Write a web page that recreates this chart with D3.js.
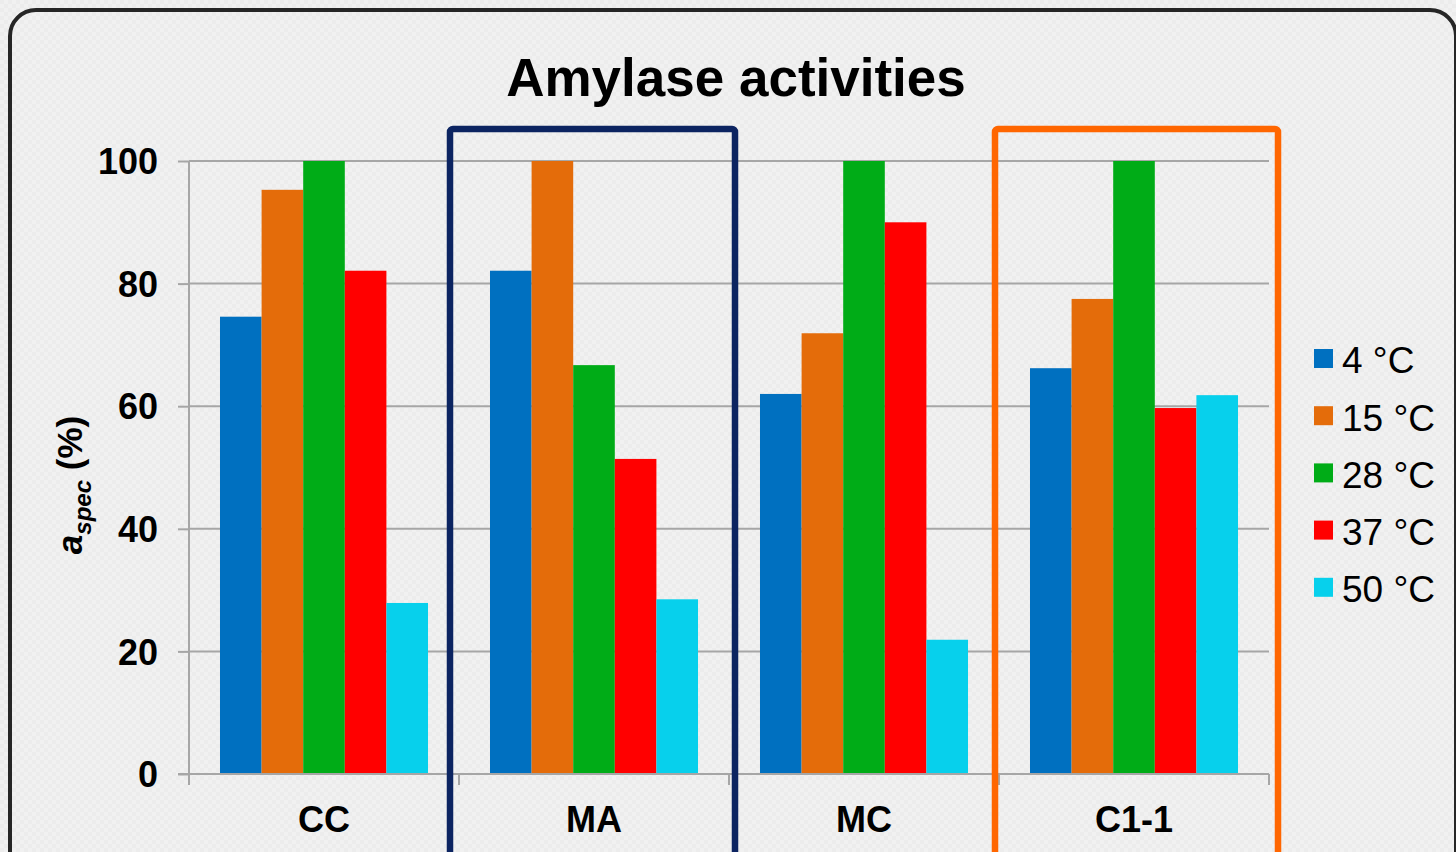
<!DOCTYPE html>
<html><head><meta charset="utf-8">
<script src="https://cdn.jsdelivr.net/npm/d3@7"></script>
<style>html,body{margin:0;padding:0;background:#f0f0f0;overflow:hidden}</style>
</head><body>
<svg id="c" width="1456" height="852"></svg>
<script>
const categories = ["CC", "MA", "MC", "C1-1"];
const seriesNames = ["4 °C", "15 °C", "28 °C", "37 °C", "50 °C"];
const seriesColors = ["#0070c0", "#e46c0a", "#00ac17", "#ff0000", "#07d0ec"];
const v4 = [74.6, 82.1, 62.0, 66.2];
const v15 = [95.3, 100, 71.9, 77.5];
const v28 = [100, 66.7, 100, 100];
const v37 = [82.1, 51.4, 90.0, 59.7];
const v50 = [27.9, 28.5, 21.9, 61.8];
const yTicks = [0, 20, 40, 60, 80, 100];
const highlightCats = ["MA", "C1-1"];
const highlightColors = ["#0c2461", "#ff6600"];

const boxPad = [[-9, 6], [-4, 9]];
const series = [v4, v15, v28, v37, v50];
const svg = d3.select("#c");
const W = 1456, H = 852;
const FONT = "Arial, 'Liberation Sans', sans-serif";

// background pattern
const defs = svg.append("defs");
const pat = defs.append("pattern").attr("id", "bg").attr("width", 8).attr("height", 8).attr("patternUnits", "userSpaceOnUse");
pat.append("rect").attr("width", 8).attr("height", 8).attr("fill", "#f1f1f1");
pat.append("rect").attr("width", 4).attr("height", 4).attr("fill", "#ececec");
pat.append("rect").attr("x", 4).attr("y", 4).attr("width", 4).attr("height", 4).attr("fill", "#ececec");
svg.append("rect").attr("width", W).attr("height", H).attr("fill", "url(#bg)");

// frame
svg.append("rect").attr("x", 10).attr("y", 10).attr("width", 1446).attr("height", 880)
  .attr("rx", 26).attr("ry", 26).attr("fill", "none").attr("stroke", "#262626").attr("stroke-width", 4);

const pLeft = 189, pRight = 1269, pTop = 161, pBottom = 774;
const x0 = d3.scaleBand().domain(categories).range([pLeft, pRight]).paddingInner(0).paddingOuter(0);
const x1 = d3.scaleBand().domain(d3.range(seriesNames.length)).range([0, x0.bandwidth()]).paddingOuter(0.745).paddingInner(0);
const y = d3.scaleLinear().domain([0, 100]).range([pBottom, pTop]);

// gridlines
svg.append("g").selectAll("line").data(yTicks.filter(d => d > 0)).join("line")
  .attr("x1", pLeft).attr("x2", pRight).attr("y1", d => y(d)).attr("y2", d => y(d))
  .attr("stroke", "#a6a6a6").attr("stroke-width", 2);

// y axis
const yAxis = d3.axisLeft(y).tickValues(yTicks).tickSize(11).tickPadding(20);
const gy = svg.append("g").attr("transform", `translate(${pLeft},0)`).call(yAxis);
gy.select(".domain").attr("stroke", "#a6a6a6").attr("stroke-width", 2).attr("d", `M0,${pTop}V${pBottom}`);
gy.selectAll(".tick line").attr("stroke", "#a6a6a6").attr("stroke-width", 2);
gy.selectAll(".tick text").attr("font-family", FONT)
  .attr("font-weight", "bold").attr("font-size", 36).attr("fill", "#000").attr("dy", "0.35em");

// bars
const g = svg.append("g");
categories.forEach((c, ci) => {
  series.forEach((s, si) => {
    g.append("rect")
      .attr("x", x0(c) + x1(si)).attr("width", x1.bandwidth())
      .attr("y", y(s[ci])).attr("height", y(0) - y(s[ci]))
      .attr("fill", seriesColors[si]);
  });
});

// x axis
const gx = svg.append("g").attr("transform", `translate(0,${pBottom})`);
gx.append("line").attr("x1", pLeft - 11).attr("x2", pRight).attr("stroke", "#a6a6a6").attr("stroke-width", 2);
const bounds = categories.map(c => x0(c)).concat([pRight]);
gx.selectAll("line.t").data(bounds).join("line").attr("class", "t")
  .attr("x1", d => d).attr("x2", d => d).attr("y1", 0).attr("y2", 11)
  .attr("stroke", "#a6a6a6").attr("stroke-width", 2);
gx.selectAll("text").data(categories).join("text")
  .attr("x", d => x0(d) + x0.bandwidth() / 2).attr("y", 58)
  .attr("text-anchor", "middle").attr("font-family", FONT)
  .attr("font-weight", "bold").attr("font-size", 36).text(d => d);

// highlight boxes
highlightCats.forEach((c, i) => {
  const bx = x0(c);
  svg.append("rect").attr("x", bx + boxPad[i][0]).attr("y", 129)
    .attr("width", x0.bandwidth() - boxPad[i][0] + boxPad[i][1]).attr("height", 800)
    .attr("rx", 3).attr("fill", "none").attr("stroke", highlightColors[i]).attr("stroke-width", 6.5);
});

// title
svg.append("text").attr("x", 736).attr("y", 96).attr("text-anchor", "middle")
  .attr("font-family", FONT).attr("font-weight", "bold")
  .attr("font-size", 53).text("Amylase activities");

// y label
const yl = svg.append("text").attr("transform", "translate(82,485) rotate(-90)")
  .attr("text-anchor", "middle").attr("font-family", FONT)
  .attr("font-weight", "bold").attr("font-size", 35);
yl.append("tspan").attr("font-style", "italic").text("a");
yl.append("tspan").attr("font-style", "italic").attr("font-size", 24).attr("dy", 9).text("spec");
yl.append("tspan").attr("dy", -9).text(" (%)");

// legend
const lg = svg.append("g").attr("transform", "translate(1314,359)");
seriesNames.forEach((n, i) => {
  const row = lg.append("g").attr("transform", `translate(0,${i * 57.2})`);
  row.append("rect").attr("x", 0).attr("y", -10).attr("width", 19).attr("height", 19).attr("fill", seriesColors[i]);
  row.append("text").attr("x", 28).attr("y", 1).attr("dy", "0.36em")
    .attr("font-family", FONT).attr("font-size", 37).text(n);
});
</script>
</body></html>
